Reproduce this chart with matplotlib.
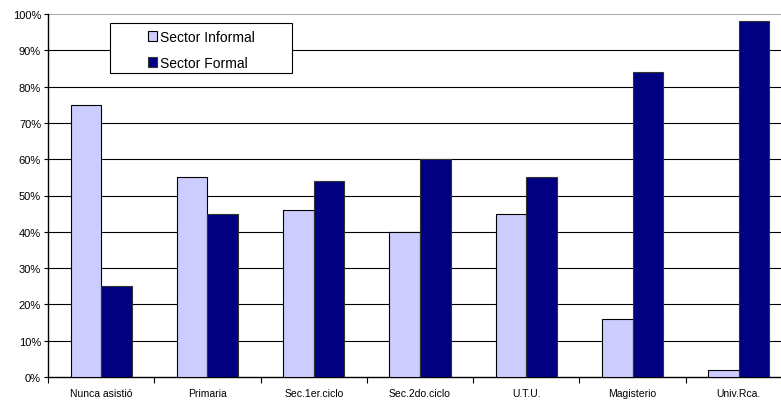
import numpy as np
import matplotlib.pyplot as plt
from matplotlib.patches import Rectangle
from matplotlib.ticker import FuncFormatter

plt.rcParams['font.family'] = ['Liberation Sans', 'DejaVu Sans']

categorias = ["Nunca asistió", "Primaria", "Sec.1er.ciclo", "Sec.2do.ciclo",
              "U.T.U.", "Magisterio", "Univ.Rca."]
informal = [75, 55, 46, 40, 45, 16, 2]
formal = [25, 45, 54, 60, 55, 84, 98]

W, H = 781, 402
fig = plt.figure(figsize=(W / 100, H / 100), dpi=100)
# eje algo mas ancho que la imagen: el borde derecho queda fuera
ax = fig.add_axes([48 / W, (H - 378) / H, 744 / W, 363 / H])

x = np.arange(len(categorias))
ancho = 0.287
ax.bar(x - ancho / 2, informal, ancho, color='#CCCCFF', edgecolor='black',
       linewidth=0.8, label='Sector Informal', zorder=3)
ax.bar(x + ancho / 2, formal, ancho, color='#000080', edgecolor='#333333',
       linewidth=0.8, label='Sector Formal', zorder=3)

ax.set_xlim(-0.5, len(categorias) - 0.5)
ax.set_ylim(0, 100)
ax.set_yticks(np.arange(0, 101, 10))
ax.yaxis.set_major_formatter(FuncFormatter(lambda v, p: f"{int(v)}%"))
ax.tick_params(axis='y', labelsize=8, length=3, width=0.8, pad=2)

# ticks entre categorias, etiquetas centradas
ax.set_xticks(np.arange(-0.5, len(categorias) - 0.4, 1))
ax.set_xticklabels([])
ax.tick_params(axis='x', which='major', direction='out', length=4, width=0.8)
ax.set_xticks(x, minor=True)
ax.set_xticklabels(categorias, minor=True)
ax.tick_params(axis='x', which='minor', length=0, labelsize=7.5, pad=8)

for v in range(10, 100, 10):
    ax.axhline(v, color='black', linewidth=0.8, zorder=1)
ax.axhline(100, color='#999999', linewidth=1.2, zorder=1)

for s in ['top', 'right']:
    ax.spines[s].set_visible(False)
ax.spines['left'].set_linewidth(1.0)
ax.spines['bottom'].set_linewidth(1.0)

# marco de la leyenda
marco = Rectangle((110 / W, (H - 74) / H), 182 / W, 50 / H, transform=fig.transFigure,
                  facecolor='white', edgecolor='black', linewidth=0.8, zorder=4)
fig.patches.append(marco)

leg = fig.legend(loc='upper left', bbox_to_anchor=(148 / W, (H - 31) / H),
                 fontsize=10, frameon=False, borderpad=0,
                 handlelength=0.65, handleheight=0.65, handletextpad=0.2,
                 labelspacing=0.85, borderaxespad=0)
leg.set_zorder(5)

fig.savefig('out.png', dpi=100)
